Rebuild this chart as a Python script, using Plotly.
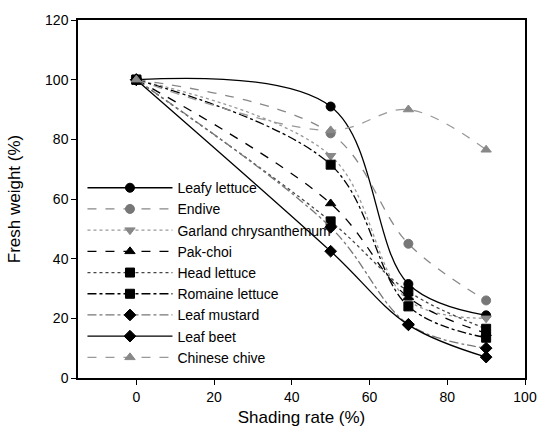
import plotly.graph_objects as go

shading = [0, 50, 70, 90]
names = ["Leafy lettuce", "Endive", "Garland chrysanthemum", "Pak-choi", "Head lettuce",
         "Romaine lettuce", "Leaf mustard", "Leaf beet", "Chinese chive"]
leafy_lettuce = [100, 91, 31.5, 21]
endive = [100, 82, 45, 26]
garland = [100, 74.5, 26, 20]
pak_choi = [100, 58.5, 27, 15]
head_lettuce = [100, 52.5, 29, 16.5]
romaine = [100, 71.5, 24, 13.5]
leaf_mustard = [100, 50.5, 18, 10]
leaf_beet = [100, 42.5, 17.8, 7]
chinese_chive = [100, 83, 90, 76.5]

series = [leafy_lettuce, endive, garland, pak_choi, head_lettuce, romaine,
          leaf_mustard, leaf_beet, chinese_chive]
styles = [
    dict(color="black", dash="solid", symbol="circle", mcolor="black"),
    dict(color="#888888", dash="dash", symbol="circle-x", mcolor="#777777"),
    dict(color="#999999", dash="dot", symbol="triangle-down", mcolor="#888888"),
    dict(color="black", dash="dash", symbol="triangle-up", mcolor="black"),
    dict(color="#444444", dash="dot", symbol="square", mcolor="black"),
    dict(color="black", dash="dashdot", symbol="square", mcolor="black"),
    dict(color="#777777", dash="dashdot", symbol="diamond", mcolor="black"),
    dict(color="black", dash="solid", symbol="diamond", mcolor="black"),
    dict(color="#999999", dash="dash", symbol="triangle-up", mcolor="#888888"),
]

fig = go.Figure()
for n, s, st in zip(names, series, styles):
    fig.add_trace(go.Scatter(
        x=shading, y=s, name=n, mode="lines+markers",
        line=dict(color=st["color"], dash=st["dash"], width=1.3, shape="spline", smoothing=1.0),
        marker=dict(symbol=st["symbol"], color=st["mcolor"], size=9,
                    line=dict(color=st["mcolor"], width=1)),
    ))

axis_common = dict(showline=True, linecolor="black", linewidth=1.5, mirror=True,
                   ticks="outside", ticklen=5, tickcolor="black", showgrid=False,
                   zeroline=False, tickfont=dict(size=14, color="black"))
fig.update_layout(
    width=549, height=442,
    margin=dict(l=78, r=12, t=14, b=64),
    plot_bgcolor="white", paper_bgcolor="white",
    font=dict(family="Liberation Sans, Arial, sans-serif", color="black"),
    xaxis=dict(range=[-15, 100], tickvals=[0, 20, 40, 60, 80, 100],
               title=dict(text="Shading rate (%)", font=dict(size=17, color="black"), standoff=8),
               **axis_common),
    yaxis=dict(range=[0, 120], tickvals=[0, 20, 40, 60, 80, 100, 120],
               title=dict(text="Fresh weight (%)", font=dict(size=17, color="black"), standoff=20),
               **axis_common),
    legend=dict(x=0.01, y=0.575, xanchor="left", yanchor="top", bgcolor="rgba(0,0,0,0)",
                font=dict(size=14, color="black"), itemwidth=85, tracegroupgap=0),
    showlegend=True,
)
fig.write_html("out.html")
